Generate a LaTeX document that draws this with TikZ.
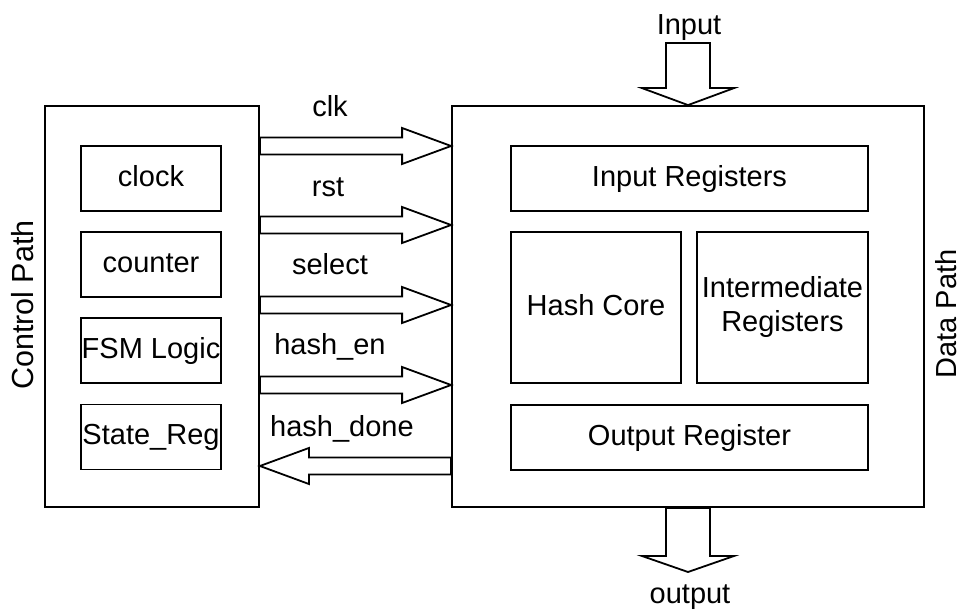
\documentclass[tikz,border=0pt]{standalone}
\usepackage{fontspec}
\setmainfont{Liberation Sans}
\usetikzlibrary{calc}
\newcommand\blockarrow[5]{% shaft half, head half, head length, from, to
  \path ($(#5)!#3pt!(#4)$) coordinate (bah);
  \draw[blk] ($(#4)!#1pt!90:(#5)$) -- ($(bah)!#1pt!-90:(#4)$) -- ($(bah)!#2pt!-90:(#4)$) -- (#5)
    -- ($(bah)!#2pt!90:(#4)$) -- ($(bah)!#1pt!90:(#4)$) -- ($(#4)!#1pt!-90:(#5)$) -- cycle;
}
\begin{document}
\begin{tikzpicture}[x=1pt,y=-1pt,
  every node/.style={font=\fontsize{29}{34}\selectfont},
  frame/.style={draw, line width=1.8pt, inner sep=0pt},
  unit/.style={frame, text height=22pt, text depth=6pt},
  blk/.style={draw, line width=1.8pt, line join=miter},
  lbl/.style={inner sep=0pt, anchor=base},
  side/.style={rotate=90, inner sep=0pt}]
\useasboundingbox (0,0) rectangle (962,612);
% outer blocks
\node[frame, minimum width=214pt, minimum height=401pt] (ctrl) at (152,306.5) {};
\node[frame, minimum width=472pt, minimum height=401pt] (data) at (688,306.5) {};
% control path units
\node[unit, minimum width=140pt, minimum height=65pt] (clock) at (151,178.5) {clock};
\node[unit, minimum width=140pt, minimum height=65pt] (counter) at (151,264.5) {counter};
\node[unit, minimum width=140pt, minimum height=65pt] (fsm) at (151,350.5) {FSM Logic};
\node[unit, minimum width=140pt, minimum height=65pt] (sreg) at (151,437) {State\_Reg};
% data path units
\node[unit, minimum width=357pt, minimum height=65pt] (inreg) at (689.5,178.5) {Input Registers};
\node[unit, minimum width=170pt, minimum height=151pt] (core) at (596,307.5) {Hash Core};
\node[frame, minimum width=171pt, minimum height=151pt, align=center] (inter) at (782.5,307.5) {Intermediate\\Registers};
\node[unit, minimum width=357pt, minimum height=65pt] (outreg) at (689.5,437.5) {Output Register};
% side labels
\node[side, font=\fontsize{30.5}{36}\selectfont] (cpl) at (23,305) {Control Path};
\node[side] (dpl) at (946,314) {Data Path};
% signal arrows
\foreach \n/\y in {clk/146, rst/225, sel/305, hen/385, hdn/466} {
  \coordinate (\n y) at (0,\y);
  \coordinate (\n A) at (ctrl.east |- \n y);
  \coordinate (\n B) at (data.west |- \n y);
}
\blockarrow{8.5}{18}{49}{clkA}{clkB}
\blockarrow{8.5}{18}{49}{rstA}{rstB}
\blockarrow{8.5}{18}{49}{selA}{selB}
\blockarrow{8.5}{18}{49}{henA}{henB}
\blockarrow{8.5}{18}{49}{hdnB}{hdnA}
\node[lbl] (lclk) at (330,117) {clk};
\node[lbl] (lrst) at (328,197) {rst};
\node[lbl] (lsel) at (330,275) {select};
\node[lbl] (lhen) at (330,355) {hash\_en};
\node[lbl] (lhdn) at (342,436) {hash\_done};
% input / output arrows
\coordinate (inTop) at (688,43);
\coordinate (outTip) at (688,572);
\blockarrow{22}{46}{17}{inTop}{data.north}
\blockarrow{22}{46}{16}{data.south}{outTip}
\node[lbl] (lin) at (689,35) {Input};
\node[lbl] (lout) at (690,603) {output};
\end{tikzpicture}
\end{document}
